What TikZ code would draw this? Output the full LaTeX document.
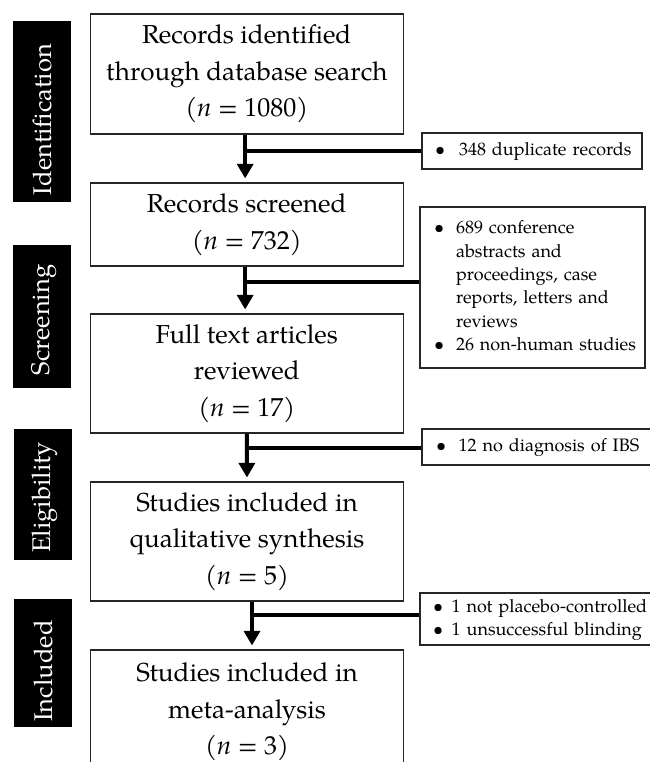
\documentclass[tikz,border=0pt]{standalone}
\usepackage{fontspec}
\setmainfont{TeX Gyre Pagella}
\usetikzlibrary{arrows.meta}
\begin{document}
\begin{tikzpicture}[x=0.75pt,y=-0.75pt,
  mainbox/.style={draw=black!85, line width=0.8pt, minimum width={313*0.75pt}, align=center, inner sep=0pt,
    font=\fontsize{19.5}{27.5}\selectfont},
  sidebox/.style={draw=black!85, line width=0.8pt, align=left, inner ysep=0pt,
    font=\fontsize{13.5}{17.5}\selectfont},
  bar/.style={fill=black, draw=none, rotate=90, minimum height={58*0.75pt}, inner sep=0pt},
  bartext/.style={text=white, rotate=90, inner sep=0pt, font=\fontsize{19.2}{20}\selectfont},
  arr/.style={line width=3pt, -{Triangle[width=12pt,length=11pt]}, shorten >=3pt},
  branch/.style={line width=3pt}
]
\useasboundingbox (0,0) rectangle (649,762);
% stage bars
\node[bar, minimum width={181*0.75pt}] (idbar) at (42,111.5) {};
\node[bartext] (idtxt) at (42,119.5) {Identification};
\node[bar, minimum width={143*0.75pt}] (scbar) at (42,316.5) {};
\node[bartext] (sctxt) at (44,320) {Screening};
\node[bar, minimum width={131*0.75pt}] (elbar) at (43,494.5) {};
\node[bartext] (eltxt) at (45,497.5) {Eligibility};
\node[bar, minimum width={128*0.75pt}] (inbar) at (43,663) {};
\node[bartext] (intxt) at (43,671) {Included};
% main boxes
\node[mainbox, minimum height={120*0.75pt}] (b1) at (246.75,74) {Records identified\\through database search\\(\textit{n} = 1080)};
\node[mainbox, minimum height={83*0.75pt}] (b2) at (246.75,224.5) {Records screened\\(\textit{n} = 732)};
\node[mainbox, minimum height={119*0.75pt}] (b3) at (246.75,373.5) {Full text articles\\reviewed\\(\textit{n} = 17)};
\node[mainbox, minimum height={119*0.75pt}] (b4) at (247,541.5) {Studies included in\\qualitative synthesis\\(\textit{n} = 5)};
\node[mainbox, minimum height={124*0.75pt}] (b5) at (247,712) {Studies included in\\meta-analysis\\(\textit{n} = 3)};
% side boxes
\node[sidebox, minimum width={220*0.75pt}, minimum height={36*0.75pt}, inner xsep={13*0.75pt}, text width={194*0.75pt}] (s1) at (532,151)
 {\begin{tabular}{@{}p{18pt}@{}l@{}}\textbullet & 348 duplicate records\end{tabular}};
\node[sidebox, minimum width={225*0.75pt}, minimum height={161*0.75pt}, inner xsep={14*0.75pt}, text width={197*0.75pt}] (s2) at (532.5,287.5)
 {\begin{tabular}{@{}p{16.5pt}@{}l@{}}\textbullet & 689 conference\\ & abstracts and\\ & proceedings, case\\ & reports, letters and\\ & reviews\\ \textbullet & 26 non-human studies\end{tabular}};
\node[sidebox, minimum width={230*0.75pt}, minimum height={36*0.75pt}, inner xsep={14*0.75pt}, text width={202*0.75pt}] (s3) at (537,447)
 {\begin{tabular}{@{}p{17pt}@{}l@{}}\textbullet & 12 no diagnosis of IBS\end{tabular}};
\node[sidebox, minimum width={232*0.75pt}, minimum height={52*0.75pt}, inner xsep={13*0.75pt}, text width={206*0.75pt}] (s4) at (536,619)
 {\begin{tabular}{@{}p{14pt}@{}l@{}}\textbullet & 1 not placebo-controlled\\ \textbullet & 1 unsuccessful blinding\end{tabular}};
% arrows
\draw[arr] ([xshift=-1.2pt]b1.south) -- ([xshift=-1.2pt]b2.north);
\draw[arr] ([xshift=-1.2pt]b2.south) -- ([xshift=-1.2pt]b3.north);
\draw[arr] ([xshift=0pt]b3.south) -- ([xshift=0pt]b4.north);
\draw[arr] ([xshift=3.75pt]b4.south) -- ([xshift=3.75pt]b5.north);
% branches
\draw[branch] (s1.west) -- ([xshift=-1.2pt]s1.west -| b1.south);
\draw[branch] ([yshift=4.1pt]s2.west) -- ([xshift=-1.2pt,yshift=4.1pt]s2.west -| b2.south);
\draw[branch] ([yshift=-0.7pt]s3.west) -- ([yshift=-0.7pt]s3.west -| b3.south);
\draw[branch] ([yshift=3pt]s4.west) -- ([xshift=3.75pt,yshift=3pt]s4.west -| b4.south);
\end{tikzpicture}
\end{document}
